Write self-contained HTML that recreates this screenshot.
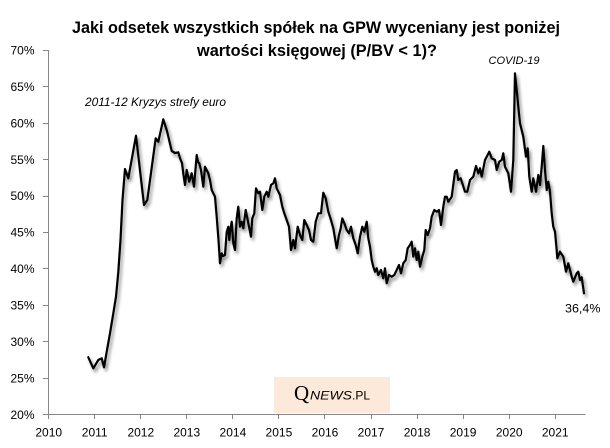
<!DOCTYPE html>
<html>
<head>
<meta charset="utf-8">
<style>
html,body{margin:0;padding:0;background:#fff;}
svg{display:block;}
text{font-family:"Liberation Sans", sans-serif;}
</style>
</head>
<body>
<svg width="610" height="448" viewBox="0 0 610 448" xmlns="http://www.w3.org/2000/svg">
<defs>
<filter id="sh" x="-10%" y="-10%" width="130%" height="130%">
<feGaussianBlur in="SourceAlpha" stdDeviation="1.6" result="b"/>
<feOffset in="b" dx="2" dy="3" result="o"/>
<feComponentTransfer in="o" result="s"><feFuncA type="linear" slope="0.45"/></feComponentTransfer>
<feMerge><feMergeNode in="s"/><feMergeNode in="SourceGraphic"/></feMerge>
</filter>
</defs>
<rect width="610" height="448" fill="#fff"/>

<!-- title -->
<text x="316" y="33" font-size="17" font-weight="bold" text-anchor="middle" textLength="488" lengthAdjust="spacingAndGlyphs" fill="#000">Jaki odsetek wszystkich spółek na GPW wyceniany jest poniżej</text>
<text x="317" y="56" font-size="17" font-weight="bold" text-anchor="middle" textLength="240" lengthAdjust="spacingAndGlyphs" fill="#000">wartości księgowej (P/BV &lt; 1)?</text>

<!-- logo -->
<rect x="274" y="377" width="116" height="36" fill="#fde9d9"/>
<text x="294" y="400" font-size="21" fill="#000" style="font-family:'Liberation Serif',serif">Q</text>
<text x="310" y="399.5" font-size="11.5" font-style="italic" textLength="42" lengthAdjust="spacingAndGlyphs" fill="#000">NEWS</text>
<text x="352" y="399.5" font-size="11.5" textLength="18" lengthAdjust="spacingAndGlyphs" fill="#000">.PL</text>

<!-- axes -->
<g stroke="#868686" stroke-width="1" fill="none">
<line x1="48.5" y1="50" x2="48.5" y2="414.5"/>
<line x1="48.5" y1="414.5" x2="585.5" y2="414.5"/>
<line x1="43" y1="50.5" x2="48.5" y2="50.5"/>
<line x1="43" y1="86.5" x2="48.5" y2="86.5"/>
<line x1="43" y1="123.5" x2="48.5" y2="123.5"/>
<line x1="43" y1="159.5" x2="48.5" y2="159.5"/>
<line x1="43" y1="196.5" x2="48.5" y2="196.5"/>
<line x1="43" y1="232.5" x2="48.5" y2="232.5"/>
<line x1="43" y1="268.5" x2="48.5" y2="268.5"/>
<line x1="43" y1="305.5" x2="48.5" y2="305.5"/>
<line x1="43" y1="341.5" x2="48.5" y2="341.5"/>
<line x1="43" y1="378.5" x2="48.5" y2="378.5"/>
<line x1="43" y1="414.5" x2="48.5" y2="414.5"/>
<line x1="48.5" y1="414.5" x2="48.5" y2="419"/>
<line x1="94.5" y1="414.5" x2="94.5" y2="419"/>
<line x1="140.5" y1="414.5" x2="140.5" y2="419"/>
<line x1="186.5" y1="414.5" x2="186.5" y2="419"/>
<line x1="232.5" y1="414.5" x2="232.5" y2="419"/>
<line x1="278.5" y1="414.5" x2="278.5" y2="419"/>
<line x1="324.5" y1="414.5" x2="324.5" y2="419"/>
<line x1="371.5" y1="414.5" x2="371.5" y2="419"/>
<line x1="417.5" y1="414.5" x2="417.5" y2="419"/>
<line x1="463.5" y1="414.5" x2="463.5" y2="419"/>
<line x1="509.5" y1="414.5" x2="509.5" y2="419"/>
<line x1="555.5" y1="414.5" x2="555.5" y2="419"/>
</g>

<!-- y labels -->
<g font-size="12" fill="#000" text-anchor="end">
<text x="34.5" y="54.5">70%</text>
<text x="34.5" y="90.9">65%</text>
<text x="34.5" y="127.4">60%</text>
<text x="34.5" y="163.8">55%</text>
<text x="34.5" y="200.2">50%</text>
<text x="34.5" y="236.6">45%</text>
<text x="34.5" y="273.1">40%</text>
<text x="34.5" y="309.5">35%</text>
<text x="34.5" y="345.9">30%</text>
<text x="34.5" y="382.4">25%</text>
<text x="34.5" y="418.8">20%</text>
</g>

<!-- x labels -->
<g font-size="12" fill="#000" text-anchor="middle">
<text x="48.7" y="436.5">2010</text>
<text x="94.7" y="436.5">2011</text>
<text x="140.8" y="436.5">2012</text>
<text x="186.8" y="436.5">2013</text>
<text x="232.9" y="436.5">2014</text>
<text x="278.9" y="436.5">2015</text>
<text x="325" y="436.5">2016</text>
<text x="371" y="436.5">2017</text>
<text x="417.1" y="436.5">2018</text>
<text x="463.1" y="436.5">2019</text>
<text x="509.2" y="436.5">2020</text>
<text x="555.2" y="436.5">2021</text>
</g>

<!-- annotations -->
<text x="85" y="106" font-size="11.5" font-style="italic" textLength="141" lengthAdjust="spacingAndGlyphs" fill="#000">2011-12 Kryzys strefy euro</text>
<text x="488.5" y="64" font-size="11" font-style="italic" textLength="51" lengthAdjust="spacingAndGlyphs" fill="#000">COVID-19</text>
<text x="565" y="312.5" font-size="12" textLength="35.5" lengthAdjust="spacingAndGlyphs" fill="#000">36,4%</text>

<!-- series -->
<polyline filter="url(#sh)" fill="none" stroke="#000" stroke-width="2.2" stroke-linejoin="round" stroke-linecap="round" points="
88.3,357.3 93.3,368.3 98.3,360 101.7,358.3 104,367.3 106.7,351.7 110,333.3 113.3,313.3 116,296.7 118.3,272 120.5,240 122.5,200 125,169 128.3,178.3 136,135.7 144,205 147.3,200 155.7,138.3 158.3,141.7 163.3,119.3 167,131 171.7,151 175,153 178.3,152.3 180,158.3 182,163 183.5,175 185,185 186.7,170 189.3,181.7 191.7,173.3 194,186.7 196.7,155 198,162 199.3,163.3 201,170 203.3,186.7 205,166.7 208.3,173.3 210,180 211.7,190 215,196.7 216.7,216.7 218.5,240 220,263.3 221.7,253.3 223,256 225,255 226.7,232 228.3,226.7 229.3,240 230,231.7 231.7,221.7 233.3,243.3 235,250 236.7,218.3 238.3,206.7 240,226.7 241.7,221.7 243.3,228.3 245.7,210 247.7,220 249,226.7 251,236.7 252.3,218.3 254.3,213.3 256,188.3 258.3,193.3 260,191.7 262.3,210 264.3,196.7 266.7,191.7 268.3,196.7 271,185 273.3,183.3 275,178.3 276.7,188.3 280,195 282.3,206.7 284.3,213.3 286.7,220 289,226.7 291,250 293.3,240 295,248.3 297.7,226.7 300,235 302.3,240 304.3,220 306.7,225 309,230 311,240 313.3,241.7 315.7,221.7 318.3,213.3 321,213.3 323.3,192.7 325.7,198.3 328.3,211.7 331,220 333.3,228.3 336.7,248.3 339,235 340.7,228.3 342.3,218.3 344.3,223.3 346.7,230 349,233.3 351,226.7 353.3,238.3 355.7,245 357.7,253.3 360,236.7 362.3,226.7 364.3,231.7 366.7,221.7 368.3,238.3 370,246.7 371.7,260 373.3,266.7 375,271.7 376.7,268.3 378.3,275 381,270 383.3,278.3 385,268.3 386.7,283.3 389,275 391.7,276.7 394.3,275 396.7,270 399,265 401,273.3 403.3,263.3 405.7,260 407.7,248.3 410,245 411.7,241.7 413.3,256.7 415,248.3 416.7,260 418.3,251.7 420,266.7 422.3,256.7 424.3,250 425.7,230 427.7,235 430,228.3 431.7,216.7 434.3,210 436.7,211.7 439,210 441,225 443.3,206.7 445,196.7 446.7,196.7 448.3,201.7 451.7,196.7 455,171.7 456.7,170 458.3,180 460.7,178.3 465,191.7 467.3,191.7 470,180 473.3,176.7 476,166 478.3,173.3 480,168.3 481.7,176.7 485,160 486.7,156.7 489.3,151.7 491.7,158.3 495,160 496.7,170 499.3,161.7 501.7,160 503.3,153.3 505,166.7 508.3,173.3 511,191.7 513.3,160 515,73.3 516.7,90 518.3,106.7 520,123.3 523.3,136.7 526,156.7 527.7,148.3 529.3,176.7 531.7,191.7 533.3,178.3 536,191.7 538.3,175 540,185 541.7,166.7 543.3,146 545,170 546.7,190 548.3,181.7 550,191.7 551.7,213.3 553.3,226.7 555,231.7 556.7,250 557.3,258.3 560,251.7 563.3,256.7 566,271.7 568.3,263.3 571.7,276.7 573.3,281.7 576.7,273.3 578.3,271.7 580,280 581.7,277.3 584,293.3"/>
</svg>
</body>
</html>
